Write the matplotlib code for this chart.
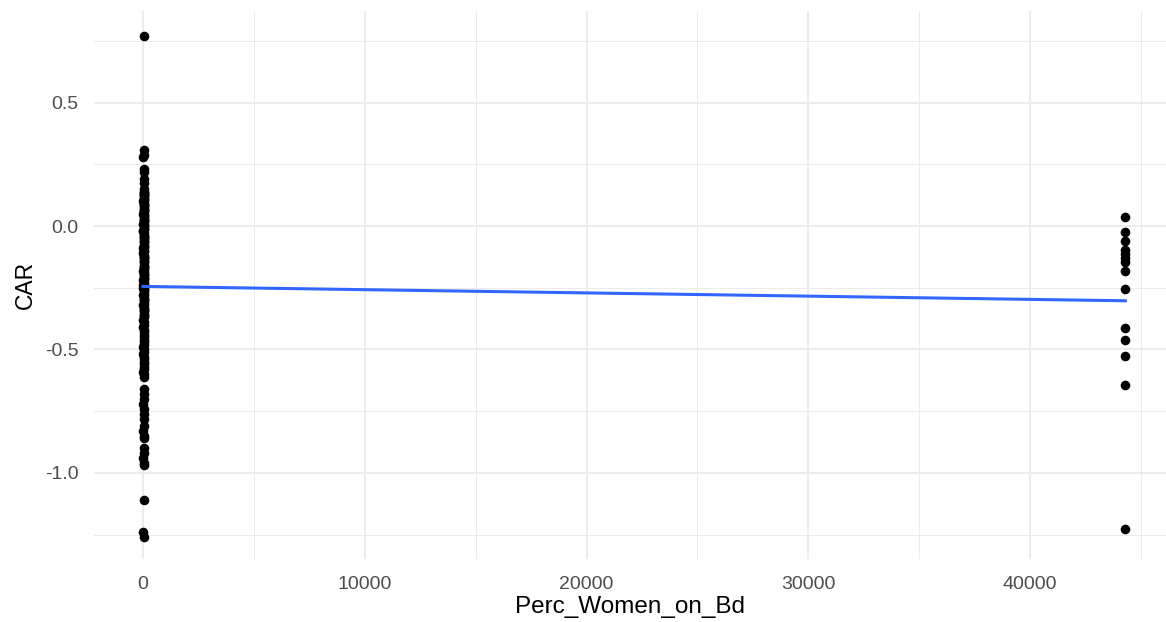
import numpy as np
import matplotlib.pyplot as plt

plt.rcParams['font.family'] = ['Liberation Sans', 'DejaVu Sans']

# CAR values, firms with small board percentages (x near 0)
left_car = [
    0.77, 0.31, 0.29, 0.28, 0.23, 0.22, 0.19, 0.175,
    0.15, 0.14, 0.13, 0.12, 0.11, 0.10, 0.09, 0.08, 0.07, 0.06, 0.05, 0.04,
    0.03, 0.02, 0.01, 0.00, -0.01, -0.02, -0.03, -0.04, -0.05, -0.06, -0.07,
    -0.08, -0.09, -0.10, -0.11, -0.12, -0.13, -0.14, -0.15, -0.16, -0.17,
    -0.18, -0.19, -0.20, -0.21, -0.22, -0.23, -0.24, -0.25, -0.26, -0.27,
    -0.28, -0.29, -0.30, -0.31, -0.32, -0.33, -0.34, -0.35, -0.36, -0.37,
    -0.38, -0.39, -0.40, -0.41, -0.42, -0.43, -0.44, -0.45, -0.46, -0.47,
    -0.48, -0.49, -0.50, -0.51, -0.52, -0.53, -0.54, -0.55, -0.56, -0.57,
    -0.58, -0.59, -0.60, -0.61,
    -0.66, -0.68, -0.70, -0.72, -0.74, -0.76, -0.78, -0.81, -0.83, -0.85,
    -0.86, -0.90, -0.92, -0.94, -0.96, -0.97, -1.11, -1.24, -1.26,
    0.12, 0.10, 0.08, 0.05, 0.03, 0.01, -0.02, -0.04, -0.06, -0.08, -0.10,
    -0.12, -0.14, -0.16, -0.18, -0.20, -0.22, -0.24, -0.26, -0.28, 0.14,
    0.11, 0.06, 0.00, -0.05, -0.09, -0.13, -0.17, -0.21, -0.25,
    0.13, 0.09, 0.07, 0.04, -0.30, -0.32, -0.34, -0.36, 0.02, -0.01,
]
left_x = [
    20, 25, 30, 10, 33, 40, 18, 25,
    30, 25, 20, 40, 33, 10, 50, 25, 30, 20, 0, 40,
    33, 25, 10, 30, 20, 0, 50, 25, 40, 30, 20,
    33, 10, 25, 0, 30, 20, 40, 25, 50, 33,
    10, 20, 30, 25, 0, 40, 20, 33, 25, 30,
    10, 50, 20, 25, 0, 30, 40, 33, 20, 25,
    10, 30, 20, 0, 25, 40, 33, 30, 20, 50,
    25, 10, 30, 20, 0, 25, 33, 40, 20, 30,
    25, 10, 20, 30,
    25, 20, 30, 10, 33, 25, 20, 30, 0, 25,
    20, 30, 25, 10, 20, 30, 25, 0, 20,
    40, 30, 50, 20, 33, 25, 10, 30, 40, 20, 25,
    33, 30, 50, 20, 25, 40, 10, 30, 20, 25,
    33, 40, 20, 30, 25, 50, 20, 33, 10,
    30, 25, 40, 20, 33, 30, 25, 20, 40, 30,
]

# the outlying group near 44300
right_car = [0.038, -0.023, -0.060, -0.097, -0.113, -0.131, -0.145, -0.182,
             -0.254, -0.412, -0.462, -0.526, -0.646, -1.227]
right_x = [44300] * len(right_car)

x = np.array(left_x + right_x, dtype=float)
y = np.array(left_car + right_car)

fig = plt.figure(figsize=(11.66, 6.22), dpi=100)
ax = fig.add_axes([94 / 1166, 0.101, (1166 - 94) / 1166, 0.881])

ax.scatter(x, y, s=48, color='black', zorder=3, linewidths=0)

# linear fit, like geom_smooth(method = "lm", se = FALSE)
slope, intercept = np.polyfit(x, y, 1)
xs = np.array([x.min(), x.max()])
ax.plot(xs, intercept + slope * xs, color='#3366FF', lw=2.2, zorder=4)

ax.set_xlim(-2215, 46133)
ax.set_ylim(-1.35, 0.871)

ax.set_xticks([0, 10000, 20000, 30000, 40000])
ax.set_xticklabels(['0', '10000', '20000', '30000', '40000'])
ax.set_xticks([5000, 15000, 25000, 35000, 45000], minor=True)
ax.set_yticks([-1.0, -0.5, 0.0, 0.5])
ax.set_yticklabels(['-1.0', '-0.5', '0.0', '0.5'])
ax.set_yticks([-1.25, -0.75, -0.25, 0.25, 0.75], minor=True)

ax.grid(True, which='major', color='#EBEBEB', lw=1.3, zorder=0)
ax.grid(True, which='minor', color='#EBEBEB', lw=0.7, zorder=0)
ax.set_axisbelow(True)
for s in ax.spines.values():
    s.set_visible(False)
ax.tick_params(which='both', length=0)
ax.tick_params(axis='x', pad=12, labelsize=14, labelcolor='#4D4D4D')
ax.tick_params(axis='y', pad=11, labelsize=14, labelcolor='#4D4D4D')

ax.set_xlabel('Perc_Women_on_Bd', fontsize=17.5, labelpad=2)
ax.set_ylabel('CAR', fontsize=16.5, labelpad=6)

fig.savefig('out.png', dpi=100)
